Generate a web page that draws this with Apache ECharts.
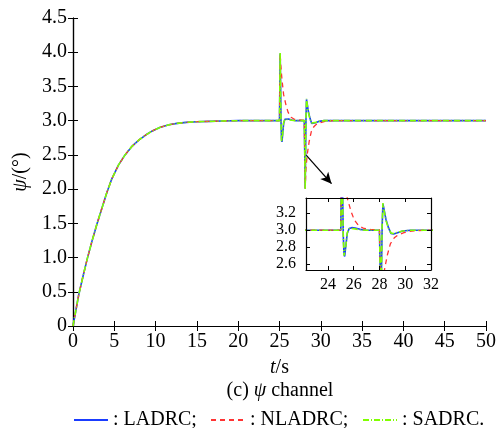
<!DOCTYPE html>
<html><head><meta charset="utf-8">
<script src="https://cdn.jsdelivr.net/npm/echarts@6/dist/echarts.min.js"></script>
<style>html,body{margin:0;padding:0;background:#fff}#c{width:499px;height:428px}</style>
</head><body><div id="c"></div>
<script>
// ---- data ----
const riseT = [0, 0.35, 0.7, 1.2, 1.7, 2.3, 2.9, 3.5, 4.1, 4.7, 5.5, 6.3, 7.1, 8.0, 8.8, 9.6, 10.5, 11.6, 12.6, 13.7, 15.0, 16.5, 18, 20, 22, 25.0];
const riseV = [0, 0.23, 0.46, 0.72, 0.97, 1.24, 1.49, 1.72, 1.95, 2.15, 2.35, 2.50, 2.62, 2.72, 2.79, 2.85, 2.90, 2.94, 2.96, 2.975, 2.985, 2.99, 2.995, 3.0, 3.0, 3.0];

const ladrcT = [25.04, 25.08, 25.13, 25.19, 25.25, 25.3, 25.38, 25.5, 25.65, 25.85, 26.1, 26.5, 27.0, 28.0, 28.06, 28.11, 28.16, 28.21, 28.27, 28.35, 28.5, 28.7, 28.9, 29.1, 29.4, 29.8, 30.4, 35, 40, 45, 50];
const ladrcV = [3.5, 3.98, 3.55, 2.95, 2.72, 2.69, 2.8, 2.96, 3.02, 3.03, 3.025, 3.01, 3.0, 3.0, 2.5, 2.01, 2.55, 3.05, 3.31, 3.25, 3.13, 3.03, 2.96, 2.955, 2.97, 2.99, 3.0, 3.0, 3.0, 3.0, 3.0];

const nladrcT = [25.04, 25.08, 25.15, 25.3, 25.5, 25.8, 26.05, 26.4, 26.8, 27.3, 28.0, 28.06, 28.12, 28.2, 28.35, 28.6, 28.85, 29.15, 29.4, 29.9, 30.5, 31.5, 35, 40, 45, 50];
const nladrcV = [3.5, 3.98, 3.82, 3.6, 3.38, 3.22, 3.12, 3.05, 3.02, 3.01, 3.005, 2.5, 2.01, 2.3, 2.5, 2.7, 2.84, 2.91, 2.94, 2.97, 2.99, 3.0, 3.0, 3.0, 3.0, 3.0];

const sadrcT = [25.04, 25.08, 25.13, 25.19, 25.25, 25.3, 25.38, 25.5, 25.65, 25.85, 26.1, 26.5, 27.0, 28.0, 28.06, 28.11, 28.16, 28.21, 28.27, 28.35, 28.5, 28.7, 28.9, 29.1, 29.4, 29.8, 30.4, 35, 40, 45, 50];
const sadrcV = [3.5, 3.99, 3.5, 2.92, 2.7, 2.68, 2.8, 2.97, 3.02, 3.02, 3.015, 3.005, 3.0, 3.0, 2.5, 2.0, 2.55, 3.07, 3.32, 3.24, 3.12, 3.02, 2.965, 2.96, 2.975, 2.99, 3.0, 3.0, 3.0, 3.0, 3.0];

const names = ['LADRC', 'NLADRC', 'SADRC'];
const insetXTicks = [24, 26, 28, 30, 32];
const insetYTicks = [2.6, 2.8, 3.0, 3.2];
const arrowFrom = [28.2, 2.5];
const arrowTo = [31.3, 2.08];

// ---- build ----
function pairs(t, v) { return t.map((x, i) => [x, v[i]]); }
const rise = pairs(riseT, riseV);
const dataSets = [
  rise.concat(pairs(ladrcT, ladrcV)),
  rise.concat(pairs(nladrcT, nladrcV)),
  rise.concat(pairs(sadrcT, sadrcV))
];
const styles = [
  { color: '#1a3cff', width: 1.6, type: 'solid' },
  { color: '#ff3333', width: 1.3, type: [5, 4] },
  { color: '#80ff00', width: 1.6, type: [6, 2, 1, 2] }
];
const FONT = '"Liberation Serif", "Times New Roman", serif';
const FS = 20;
const series = [];
[0, 1].forEach(g => {
  names.forEach((n, i) => {
    series.push({
      name: n, type: 'line', xAxisIndex: g * 2, yAxisIndex: g * 2,
      data: dataSets[i], showSymbol: false, symbol: 'none', clip: true,
      lineStyle: styles[i], itemStyle: { color: styles[i].color },
      animation: false, z: 10 + i,
      markLine: (g === 0 && i === 0) ? {
        silent: true, symbol: ['none', 'arrow'], symbolSize: [8, 11],
        label: { show: false },
        lineStyle: { color: '#000', width: 1.3, type: 'solid' },
        data: [[{ coord: arrowFrom }, { coord: arrowTo }]]
      } : undefined
    });
  });
});

const axisLine = { show: true, lineStyle: { color: '#000', width: 1.2 } };
const tick = { show: true, inside: true, length: 5, lineStyle: { color: '#000', width: 1 } };
const lbl = { color: '#000', fontFamily: FONT, fontSize: FS };
const ilbl = { color: '#000', fontFamily: FONT, fontSize: 16 };
const italic = { i: { fontFamily: FONT, fontSize: FS, fontStyle: 'italic', color: '#000' } };

function legend(i, left) {
  return {
    data: [names[i]], left: left, top: 410, padding: 0, itemWidth: 34, itemHeight: 10, itemGap: 0,
    textStyle: { color: '#000', fontFamily: FONT, fontSize: FS },
    itemStyle: { opacity: 0 },
    formatter: n => ': ' + n + (i === 2 ? '.' : ';'),
    selectedMode: false
  };
}

const option = {
  animation: false,
  backgroundColor: '#fff',
  title: {
    text: '(c) {i|ψ} channel', left: 280, top: 381, textAlign: 'center', padding: 0,
    textStyle: { color: '#000', fontFamily: FONT, fontSize: FS, fontWeight: 'normal', rich: italic }
  },
  legend: [legend(0, 73), legend(1, 210), legend(2, 362)],
  grid: [
    { left: 73, right: 11, top: 18, bottom: 102, show: false },
    { left: 306, width: 125, top: 198, height: 72, show: true, backgroundColor: '#fff', borderWidth: 0 }
  ],
  xAxis: [
    { gridIndex: 0, type: 'value', min: 0, max: 50, interval: 5, position: 'bottom',
      axisLine, axisTick: tick, splitLine: { show: false },
      axisLabel: Object.assign({ margin: 6 }, lbl),
      name: '{i|t}/s', nameLocation: 'middle', nameGap: 32,
      nameTextStyle: Object.assign({ rich: italic }, lbl) },
    { gridIndex: 0, type: 'value', min: 0, max: 50, interval: 5, position: 'top',
      axisLine, axisTick: tick, axisLabel: { show: false }, splitLine: { show: false } },
    { gridIndex: 1, type: 'value', min: 22.3, max: 32, position: 'bottom', z: 20,
      axisLine, axisTick: Object.assign({ customValues: insetXTicks }, tick, { length: 4 }),
      axisLabel: Object.assign({ customValues: insetXTicks, margin: 7 }, ilbl), splitLine: { show: false } },
    { gridIndex: 1, type: 'value', min: 22.3, max: 32, position: 'top', z: 20,
      axisLine, axisTick: Object.assign({ customValues: insetXTicks }, tick, { length: 4 }),
      axisLabel: { show: false }, splitLine: { show: false } }
  ],
  yAxis: [
    { gridIndex: 0, type: 'value', min: 0, max: 4.5, interval: 0.5, position: 'left',
      axisLine, axisTick: tick, splitLine: { show: false },
      axisLabel: Object.assign({ margin: 6, formatter: v => v === 0 ? '0' : v.toFixed(1) }, lbl),
      name: '{i|ψ}/(°)', nameLocation: 'middle', nameGap: 42, nameRotate: 90,
      nameTextStyle: Object.assign({ rich: italic }, lbl) },
    { gridIndex: 0, type: 'value', min: 0, max: 4.5, interval: 0.5, position: 'right',
      axisLine, axisTick: tick, axisLabel: { show: false }, splitLine: { show: false } },
    { gridIndex: 1, type: 'value', min: 2.53, max: 3.38, position: 'left', z: 20,
      axisLine, axisTick: Object.assign({ customValues: insetYTicks }, tick, { length: 4 }),
      axisLabel: Object.assign({ customValues: insetYTicks, margin: 10, formatter: v => v.toFixed(1) }, ilbl),
      splitLine: { show: false } },
    { gridIndex: 1, type: 'value', min: 2.53, max: 3.38, position: 'right', z: 20,
      axisLine, axisTick: Object.assign({ customValues: insetYTicks }, tick, { length: 4 }),
      axisLabel: { show: false }, splitLine: { show: false } }
  ],
  series
};
const chart = echarts.init(document.getElementById('c'), null, { renderer: 'canvas' });
chart.setOption(option);
</script></body></html>
